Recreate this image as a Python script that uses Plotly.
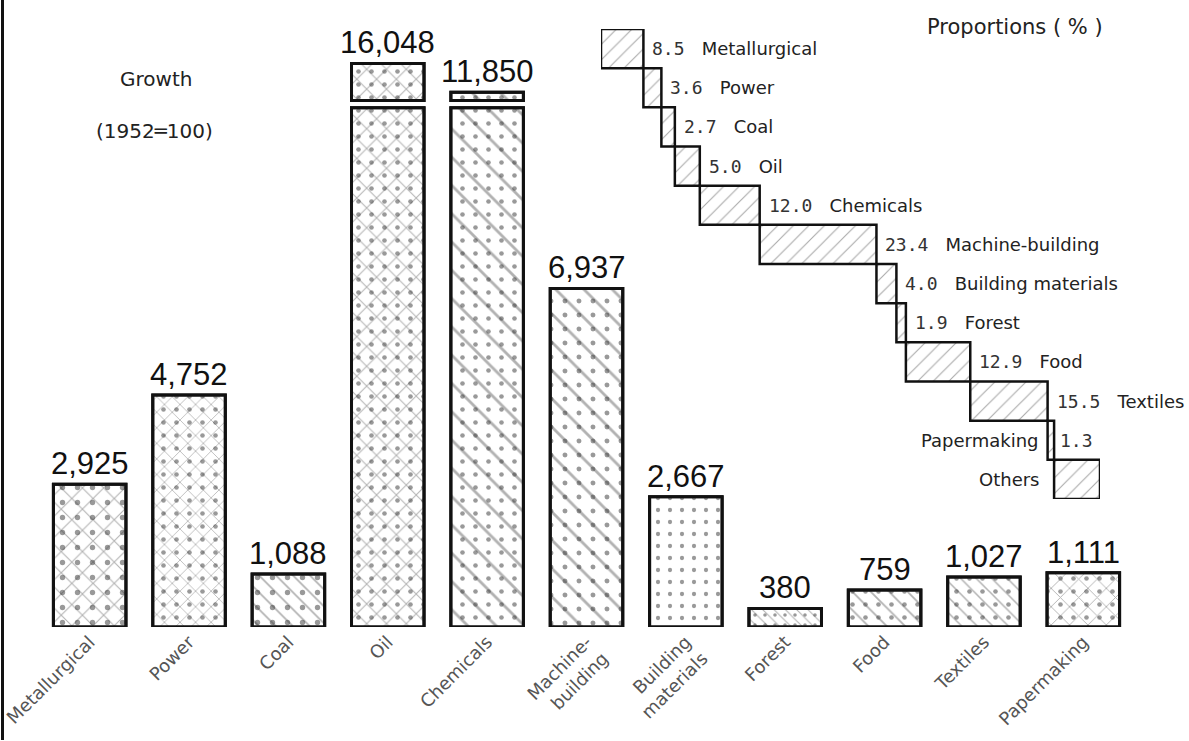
import plotly.graph_objects as go

# ---------------- data ----------------
categories = ["Metallurgical", "Power", "Coal", "Oil", "Chemicals", "Machine-building",
              "Building materials", "Forest", "Food", "Textiles", "Papermaking"]
tick_labels = ["Metallurgical", "Power", "Coal", "Oil", "Chemicals", "Machine-<br>building",
               "Building<br>materials", "Forest", "Food", "Textiles", "Papermaking"]
growth = [2925, 4752, 1088, 16048, 11850, 6937, 2667, 380, 759, 1027, 1111]
growth_text = ["2,925", "4,752", "1,088", "16,048", "11,850", "6,937", "2,667",
               "380", "759", "1,027", "1,111"]

prop_names = ["Metallurgical", "Power", "Coal", "Oil", "Chemicals", "Machine-building",
              "Building materials", "Forest", "Food", "Textiles", "Papermaking", "Others"]
prop_values = [8.5, 3.6, 2.7, 5.0, 12.0, 23.4, 4.0, 1.9, 12.9, 15.5, 1.3, 9.2]
prop_text = ["8.5", "3.6", "2.7", "5.0", "12.0", "23.4", "4.0", "1.9", "12.9", "15.5", "1.3", ""]

# ---------------- styles ----------------
line_shapes = ["x", "x", "\\", "x", "\\", "\\", "", "\\", "\\", "\\", "x"]
line_sizes = [15, 11, 12, 14, 20, 20, 12, 8, 13, 11, 13]
dot_sizes = [15, 13, 15, 13, 13, 14, 12, 10, 13, 13, 13]

W, H = 1189, 741
ML, MR, MT, MB = 40, 56, 0, 114
Y_MAX = 12848          # value units spanned by the plot height
BREAK = 10640          # where the tall bars are cut
GAP = 150              # visual gap of the axis break (value units)
K = 0.14               # compression of the part above the break

main_y = [min(v, BREAK) for v in growth]
top_base = [BREAK + GAP if v > BREAK else None for v in growth]
top_y = [(v - BREAK) * K if v > BREAK else None for v in growth]
drawn_top = [BREAK + GAP + (v - BREAK) * K if v > BREAK else v for v in growth]

GEO = "DejaVu Sans"
MONO = "DejaVu Sans Mono"
NUM = "Liberation Sans, Arial, sans-serif"

fig = go.Figure()

for ys, bases in [(main_y, None), (top_y, top_base)]:
    # line-hatch layer (white background)
    fig.add_trace(go.Bar(
        x=categories, y=ys, base=bases, width=0.73,
        marker=dict(color="white",
                    line=dict(color="#111", width=3),
                    pattern=dict(shape=line_shapes, size=line_sizes, solidity=0.14,
                                 fgcolor="#666", bgcolor="white", fillmode="overlay")),
        showlegend=False, hoverinfo="skip"))
    # dot layer (transparent)
    fig.add_trace(go.Bar(
        x=categories, y=ys, base=bases, width=0.73,
        marker=dict(color="rgba(0,0,0,0)",
                    line=dict(color="#111", width=3),
                    pattern=dict(shape=".", size=dot_sizes, solidity=0.1,
                                 fgcolor="#333", bgcolor="rgba(0,0,0,0)", fillmode="overlay")),
        showlegend=False, hoverinfo="skip"))

annotations = []
for c, t, yt in zip(categories, growth_text, drawn_top):
    annotations.append(dict(x=c, y=yt, xref="x", yref="y", text=t, showarrow=False,
                            xanchor="center", yanchor="bottom", yshift=1,
                            font=dict(family=NUM, size=31, color="#111")))

# ---------------- proportions staircase ----------------
starts = []
acc = 0.0
for v in prop_values:
    starts.append(acc)
    acc += v
rows = list(range(len(prop_values)))

fig.add_trace(go.Bar(
    x=prop_values, y=rows, base=starts, orientation="h", width=1.0,
    xaxis="x2", yaxis="y2",
    marker=dict(color="white", line=dict(color="#111", width=2.5),
                pattern=dict(shape="/", size=11, solidity=0.1, fgcolor="#555",
                             bgcolor="white", fillmode="overlay")),
    showlegend=False, hoverinfo="skip"))

SP = "\u00a0" * 3
for i, (n, t, s, v) in enumerate(zip(prop_names, prop_text, starts, prop_values)):
    end = s + v
    if n == "Papermaking":
        annotations.append(dict(x=end, y=i, xref="x2", yref="y2", xanchor="left", xshift=4,
                                text=t, showarrow=False,
                                font=dict(family=MONO, size=18, color="#333")))
        annotations.append(dict(x=s, y=i, xref="x2", yref="y2", xanchor="right", xshift=-8,
                                text=n, showarrow=False,
                                font=dict(family=GEO, size=18, color="#222")))
    elif n == "Others":
        annotations.append(dict(x=s, y=i, xref="x2", yref="y2", xanchor="right", xshift=-12,
                                text=n, showarrow=False,
                                font=dict(family=GEO, size=18, color="#222")))
    else:
        annotations.append(dict(
            x=end, y=i, xref="x2", yref="y2", xanchor="left", xshift=7, showarrow=False,
            text=f"<span style='font-family:{MONO};font-size:18px;color:#333'>{t}</span>{SP}{n}",
            font=dict(family=GEO, size=18, color="#222")))

PW, PH = W - ML - MR, H - MT - MB

def px_x(p):
    return (p - ML) / PW

def px_y(p):
    return 1 - (p - MT) / PH

for txt, cx, cy, sz in [("Growth", 156, 79, 20),
                        ("(1952\u2550100)", 154, 131, 20),
                        ("Proportions ( % )", 1015, 27, 21)]:
    annotations.append(dict(x=px_x(cx), y=px_y(cy), xref="paper", yref="paper",
                            text=txt, showarrow=False, xanchor="center", yanchor="middle",
                            font=dict(family=GEO, size=sz, color="#222")))

fig.update_layout(
    width=W, height=H,
    margin=dict(l=ML, r=MR, t=MT, b=MB, autoexpand=False),
    paper_bgcolor="white", plot_bgcolor="rgba(0,0,0,0)",
    barmode="overlay",
    xaxis=dict(type="category", range=[-0.5, 10.5], showgrid=False, showline=False,
               zeroline=False, ticks="", tickangle=-45, tickmode="array",
               tickvals=categories, ticktext=tick_labels, automargin=False,
               tickfont=dict(family=GEO, size=18, color="#555")),
    yaxis=dict(range=[0, Y_MAX], visible=False, automargin=False),
    xaxis2=dict(domain=[px_x(601), px_x(1100)], range=[0, 100], visible=False,
                anchor="y2"),
    yaxis2=dict(domain=[px_y(499), px_y(29)], range=[11.5, -0.5], visible=False,
                anchor="x2"),
    annotations=annotations,
    shapes=[dict(type="line", xref="paper", yref="paper",
                 x0=px_x(2.5), x1=px_x(2.5), y0=px_y(740), y1=px_y(0),
                 line=dict(color="#111", width=3))],
)

fig.write_html("out.html", config={"displayModeBar": False},
               post_script="document.body.style.margin='0';")
